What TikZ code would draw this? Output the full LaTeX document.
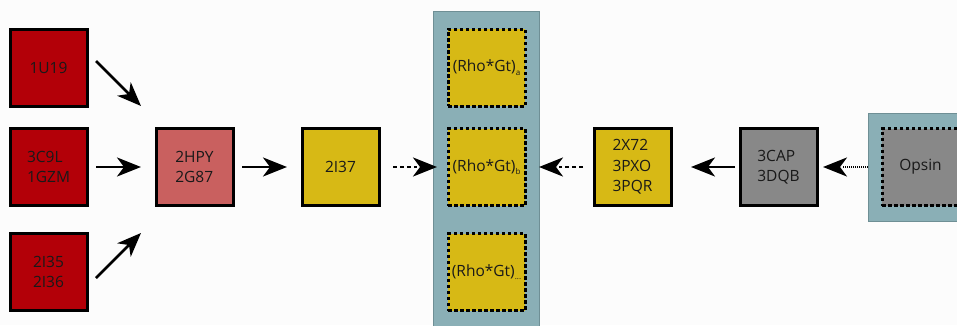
\documentclass[tikz,border=0pt]{standalone}
\usepackage{fontspec}
\setmainfont{Open Sans}
\usetikzlibrary{arrows.meta,calc}
\definecolor{cred}{HTML}{B30008}
\definecolor{cpink}{HTML}{C9605F}
\definecolor{cyel}{HTML}{D7B915}
\definecolor{cgray}{HTML}{888888}
\definecolor{cpanel}{HTML}{8AAFB6}
\definecolor{cpanelb}{HTML}{6F8F95}
\definecolor{cbg}{HTML}{FCFCFC}
\newcommand{\sbx}[1]{\raisebox{-3.5pt}{\fontsize{8}{8}\selectfont #1}}
\tikzset{
  box/.style={draw=black, line width=3pt, minimum size=77pt, inner sep=0pt, align=left,
    font=\fontsize{15.5}{20.5}\selectfont, text=black!90},
  dbox/.style={box, dash pattern=on 3.5pt off 2.5pt},
  arr/.style={line width=2.5pt, -{Stealth[length=24pt,width=19pt,inset=7pt]}},
  shaft/.style={line width=2.8pt, shorten >=20pt},
  darr/.style={shaft, dash pattern=on 4pt off 3pt},
  farr/.style={shaft, dash pattern=on 1.2pt off 0.8pt},
  panel/.style={fill=cpanel, draw=cpanelb, line width=1pt},
}
\begin{document}
\begin{tikzpicture}[x=1pt,y=-1pt]
\useasboundingbox (0,0) rectangle (957,325);
\clip (0,0) rectangle (957,325);
\fill[cbg] (0,0) rectangle (957,325);
% panels
\draw[panel] (433,11) rectangle (539,340);
\draw[panel] (868,113) rectangle (975,221);
% boxes
\node[box, fill=cred] (r1) at (48.5,67.5) {1U19};
\node[box, fill=cred] (r2) at (48.5,167) {3C9L\\1GZM};
\node[box, fill=cred] (r3) at (48.5,272) {2I35\\2I36};
\node[box, fill=cpink] (hpy) at (194.5,167) {2HPY\\2G87};
\node[box, fill=cyel] (i37) at (340.5,167) {2I37};
\node[dbox, fill=cyel] (rga) at (486.5,67.5) {(Rho*Gt)\sbx{a}};
\node[dbox, fill=cyel] (rgb) at (486.5,167) {(Rho*Gt)\sbx{b}};
\node[dbox, fill=cyel] (rgc) at (486.5,272) {(Rho*Gt)\sbx{...}};
\node[box, fill=cyel] (x72) at (632.5,167) {2X72\\3PXO\\3PQR};
\node[box, fill=cgray] (cap) at (778.5,167) {3CAP\\3DQB};
\node[dbox, fill=cgray] (ops) at (920.5,167) {Opsin};
% arrow end points
\coordinate (a1s) at (96,61);
\coordinate (a1e) at (141,106);
\coordinate (a2s) at (96,167);
\coordinate (a2e) at (141,167);
\coordinate (a3s) at (96,278);
\coordinate (a3e) at (141,233);
\coordinate (a4s) at (242,167);
\coordinate (a4e) at (287,167);
\coordinate (a5s) at (393,167);
\coordinate (a5e) at (437,167);
\coordinate (a6s) at (583,167);
\coordinate (a6e) at (539,167);
\coordinate (a7s) at (735,167);
\coordinate (a7e) at (691,167);
\coordinate (a8s) at (868,167);
\coordinate (a8e) at (823,167);
\draw[arr] (a1s) -- (a1e);
\draw[arr] (a2s) -- (a2e);
\draw[arr] (a3s) -- (a3e);
\draw[arr] (a4s) -- (a4e);
\draw[darr] (a5s) -- (a5e);
\draw[arr] ($(a5s)!0.7!(a5e)$) -- (a5e);
\draw[darr] (a6s) -- (a6e);
\draw[arr] ($(a6s)!0.7!(a6e)$) -- (a6e);
\draw[arr] (a7s) -- (a7e);
\draw[farr] (a8s) -- (a8e);
\draw[arr] ($(a8s)!0.7!(a8e)$) -- (a8e);
\end{tikzpicture}
\end{document}
